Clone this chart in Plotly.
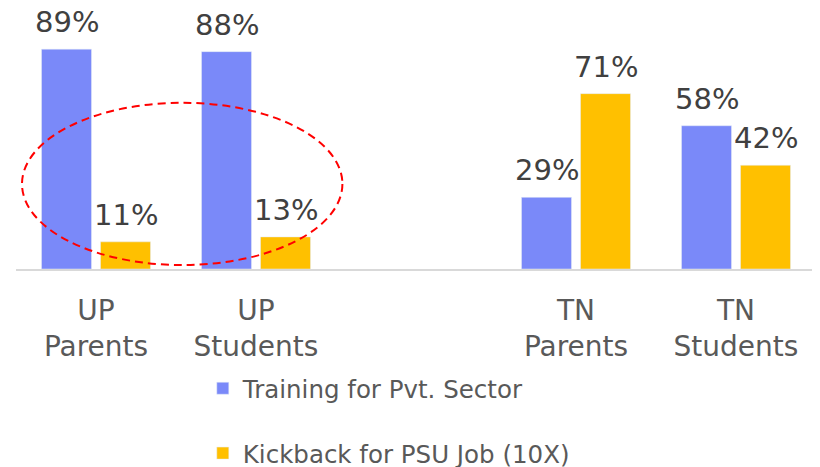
import plotly.graph_objects as go

categories = ["UP<br>Parents", "UP<br>Students", " ", "TN<br>Parents", "TN<br>Students"]
training = [89, 88, None, 29, 58]
kickback = [11, 13, None, 71, 42]
series_names = ["Training for Pvt. Sector", "Kickback for PSU Job (10X)"]
colors = ["#7A89F9", "#FFC000"]

FONT = "DejaVu Sans"
TXT = "#404040"
BARGAP = 0.2625
GROUPGAP = 0.153

fig = go.Figure()
for i, (name, vals, col) in enumerate(zip(series_names, [training, kickback], colors)):
    fig.add_trace(go.Bar(
        x=categories, y=vals, name=name, marker_color=col,
        legendgroup=f"g{i}",
    ))

# data labels
slot = (1 - BARGAP) / 2
annotations = []
for si, vals in enumerate([training, kickback]):
    off = -slot / 2 if si == 0 else slot / 2
    for ci, v in enumerate(vals):
        if v is None:
            continue
        annotations.append(dict(
            x=ci + off, y=v, xref="x", yref="y", text=f"{v}%",
            showarrow=False, yanchor="bottom", yshift=8,
            font=dict(family=FONT, size=29, color=TXT),
        ))

fig.add_shape(
    type="circle", xref="x", yref="y",
    x0=-0.4625, x1=1.54, y0=1.6, y1=67.3,
    line=dict(color="#FF0000", width=2, dash="8px,5px"),
)

# page body has an 8px margin; size the figure so it fits the 820x467 window
fig.update_layout(
    width=812, height=459,
    margin=dict(l=8, r=4, t=14, b=198, autoexpand=False),
    paper_bgcolor="white", plot_bgcolor="white",
    barmode="group", bargap=BARGAP, bargroupgap=GROUPGAP,
    font=dict(family=FONT, color=TXT),
    annotations=annotations,
    showlegend=True,
    legend=dict(
        x=0.2335, xanchor="left", y=-0.392, yanchor="top",
        orientation="v", traceorder="grouped", tracegroupgap=30,
        font=dict(family=FONT, size=24.5, color="#595959"),
        bgcolor="rgba(0,0,0,0)",
    ),
)
fig.update_xaxes(
    type="category", showgrid=False, showline=True, linecolor="#D9D9D9", linewidth=2,
    ticks="outside", ticklen=15, tickcolor="rgba(0,0,0,0)", automargin=False,
    tickfont=dict(family=FONT, size=28, color="#595959"),
)
fig.update_yaxes(range=[0, 100], showgrid=False, showticklabels=False, zeroline=False,
                 showline=False, automargin=False)

fig.write_html("out.html")
